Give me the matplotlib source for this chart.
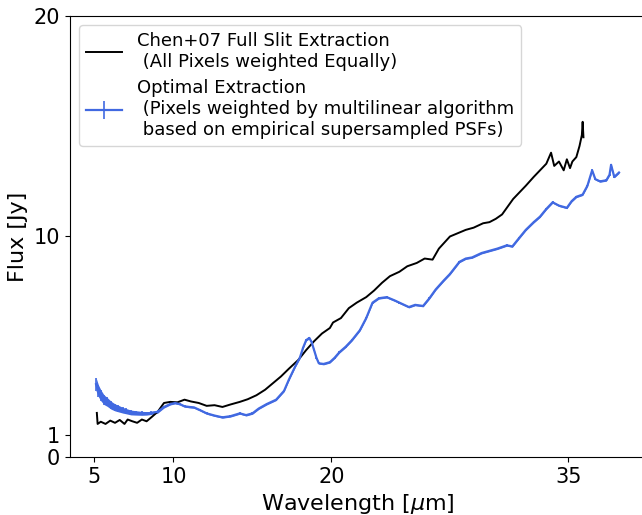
import numpy as np
import matplotlib
matplotlib.use("Agg")
import matplotlib.pyplot as plt

# Chen+07 full slit extraction (black)
x_chen = [5.15, 5.2, 5.4, 5.7, 6.0, 6.3, 6.6, 6.9, 7.1, 7.4,
          7.7, 8.0, 8.3, 8.6, 9.0, 9.4, 9.8, 10.25, 10.7, 11.1,
          11.6, 12.1, 12.6, 13.1, 13.6, 14.2, 14.7, 15.25, 15.8, 16.3,
          16.8, 17.3, 17.9, 18.4, 18.9, 19.4, 19.9, 20.1, 20.6, 21.1,
          21.6, 22.2, 22.7, 23.2, 23.7, 24.3, 24.8, 25.4, 25.9, 26.4,
          26.8, 27.5, 28.0, 28.5, 29.0, 29.6, 30.0, 30.4, 30.8, 31.1,
          31.5, 31.9, 32.3, 32.8, 33.2, 33.6, 33.9, 34.1, 34.4, 34.7,
          34.9, 35.1, 35.25, 35.5, 35.7, 35.85, 35.9, 35.95]
flux_chen = [2.0, 1.5, 1.6, 1.5, 1.65, 1.55, 1.68, 1.5, 1.7, 1.62,
             1.55, 1.7, 1.62, 1.8, 2.05, 2.45, 2.5, 2.48, 2.6, 2.52,
             2.45, 2.32, 2.35, 2.27, 2.38, 2.5, 2.62, 2.8, 3.05, 3.35,
             3.65, 4.0, 4.4, 4.85, 5.25, 5.6, 5.85, 6.1, 6.3, 6.75,
             7.0, 7.25, 7.55, 7.9, 8.2, 8.4, 8.65, 8.8, 9.0, 8.95,
             9.45, 10.0, 10.15, 10.3, 10.4, 10.6, 10.65, 10.8, 11.0, 11.3,
             11.7, 12.0, 12.3, 12.7, 13.0, 13.3, 13.8, 13.2, 13.4, 13.0,
             13.5, 13.1, 13.4, 13.6, 14.1, 14.6, 15.2, 14.5]

# optimal extraction (blue, with errors)
x_opt = [5.1, 5.25, 5.4, 5.6, 5.8, 6.05, 6.3, 6.5, 6.8, 7.0,
         7.3, 7.6, 8.0, 8.3, 8.6, 9.0, 9.4, 9.8, 10.1, 10.4,
         10.7, 11.0, 11.3, 11.7, 12.1, 12.6, 13.1, 13.6, 14.2, 14.6,
         15.0, 15.4, 15.9, 16.5, 17.0, 17.3, 17.7, 18.0, 18.2, 18.4,
         18.6, 18.75, 18.9, 19.05, 19.2, 19.5, 19.9, 20.2, 20.5, 20.9,
         21.3, 21.8, 22.2, 22.6, 23.0, 23.5, 24.0, 24.3, 24.9, 25.3,
         25.8, 26.2, 26.6, 27.1, 27.5, 28.1, 28.5, 28.9, 29.5, 30.0,
         30.5, 31.1, 31.45, 31.9, 32.3, 32.8, 33.2, 33.6, 34.0, 34.4,
         34.9, 35.2, 35.5, 35.9, 36.2, 36.5, 36.7, 37.0, 37.4, 37.6,
         37.7, 37.9, 38.2]
flux_opt = [3.3, 3.0, 2.8, 2.6, 2.5, 2.35, 2.25, 2.2, 2.12, 2.08,
            2.02, 2.0, 1.98, 1.98, 2.0, 2.05, 2.27, 2.4, 2.45, 2.4,
            2.3, 2.27, 2.25, 2.12, 1.98, 1.88, 1.8, 1.85, 1.98, 1.9,
            1.98, 2.2, 2.4, 2.6, 3.0, 3.5, 4.1, 4.5, 4.95, 5.3,
            5.4, 5.2, 4.85, 4.5, 4.25, 4.22, 4.3, 4.5, 4.75, 5.0,
            5.3, 5.75, 6.3, 7.0, 7.2, 7.25, 7.1, 7.0, 6.8, 6.9,
            6.85, 7.2, 7.6, 8.0, 8.3, 8.85, 9.0, 9.05, 9.25, 9.35,
            9.45, 9.6, 9.55, 9.95, 10.3, 10.65, 10.9, 11.25, 11.55, 11.4,
            11.3, 11.6, 11.8, 11.9, 12.3, 13.0, 12.6, 12.5, 12.55, 12.8,
            13.25, 12.7, 12.9]
err_opt = [0.30, 0.27, 0.25, 0.22, 0.20, 0.18, 0.16, 0.15, 0.13, 0.12,
           0.11, 0.10, 0.09, 0.08, 0.07, 0.06, 0.05, 0.04, 0.04, 0.04,
           0.04, 0.04, 0.04, 0.04, 0.04, 0.04, 0.04, 0.04, 0.04, 0.04,
           0.04, 0.04, 0.04, 0.04, 0.04, 0.04, 0.04, 0.04, 0.04, 0.04,
           0.04, 0.04, 0.04, 0.04, 0.04, 0.04, 0.04, 0.04, 0.04, 0.04,
           0.04, 0.04, 0.04, 0.04, 0.04, 0.04, 0.04, 0.04, 0.04, 0.04,
           0.04, 0.04, 0.04, 0.04, 0.04, 0.04, 0.04, 0.04, 0.04, 0.04,
           0.04, 0.04, 0.04, 0.04, 0.04, 0.04, 0.04, 0.04, 0.04, 0.04,
           0.04, 0.04, 0.04, 0.04, 0.04, 0.04, 0.04, 0.04, 0.04, 0.04,
           0.04, 0.04, 0.04]

x_ticks = [5, 10, 20, 35]
y_ticks = [0, 1, 10, 20]

label_chen = "Chen+07 Full Slit Extraction\n (All Pixels weighted Equally)"
label_opt = ("Optimal Extraction\n (Pixels weighted by multilinear algorithm\n"
             " based on empirical supersampled PSFs)")

fig = plt.figure(figsize=(6.42, 5.15), dpi=100)
# right edge of the axes runs just past the figure, as in the original crop
ax = fig.add_axes([0.109, 0.1126, 0.897, 0.8564])

ax.plot(x_chen, flux_chen, color="black", lw=1.4, label=label_chen)

lo = np.array(flux_opt) - np.array(err_opt)
hi = np.array(flux_opt) + np.array(err_opt)
ax.fill_between(x_opt, lo, hi, color="royalblue", lw=0)
ax.errorbar(x_opt, flux_opt, yerr=err_opt, color="royalblue", lw=1.6,
            elinewidth=1.2, label=label_opt)

ax.set_xlim(3.45, 39.9)
ax.set_ylim(0, 20)
ax.set_xticks(x_ticks)
ax.set_yticks(y_ticks)
ax.tick_params(labelsize=15)
ax.set_xlabel(r"Wavelength [$\mu$m]", fontsize=16)
ax.set_ylabel("Flux [Jy]", fontsize=16)

ax.legend(loc="upper left", fontsize=13, labelspacing=0.45)

fig.savefig("out.png", dpi=100)
